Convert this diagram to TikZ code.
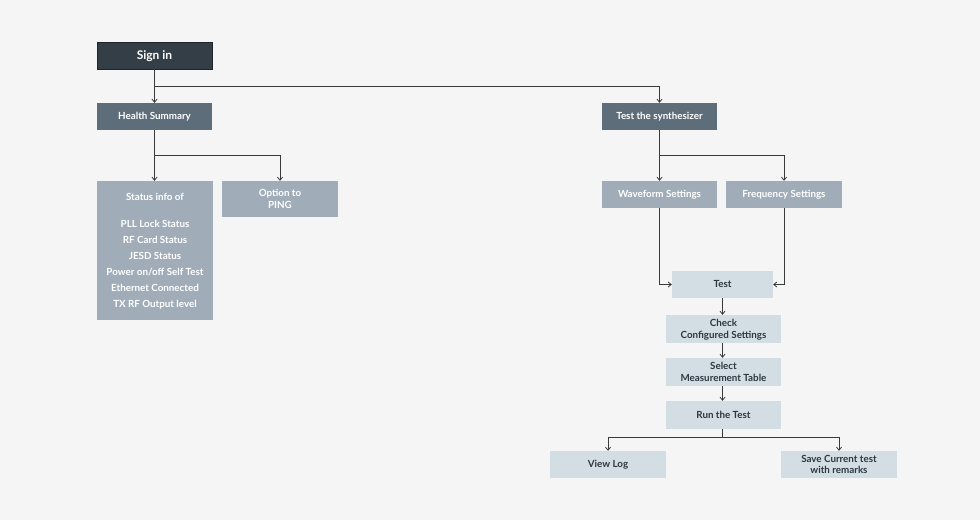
\documentclass[tikz,border=0pt]{standalone}
\usepackage{fontspec}
\setmainfont{Lato}
\usetikzlibrary{arrows.meta}
\definecolor{bg}{HTML}{F5F5F5}
\definecolor{cdark}{HTML}{343E46}
\definecolor{cmid}{HTML}{5E6D7A}
\definecolor{cgray}{HTML}{A0ADB9}
\definecolor{clight}{HTML}{D3DDE4}
\definecolor{ctext}{HTML}{2E3740}
\definecolor{cline}{HTML}{3A3A3A}
\tikzset{
  box/.style={rectangle, inner sep=0pt, align=center, text depth=0.5pt, font=\fontsize{9.8}{11.5}\selectfont\bfseries},
  darkbox/.style={box, fill=cdark, draw=cdark!60!black, line width=0.6pt, text=white},
  midbox/.style={box, fill=cmid, text=white},
  graybox/.style={box, fill=cgray, text=white},
  lightbox/.style={box, fill=clight, text=ctext},
  conn/.style={draw=cline, line width=0.8pt},
  arr/.style={conn, -{Straight Barb[length=3pt,width=5pt]}}
}
\begin{document}
\begin{tikzpicture}[x=1pt,y=-1pt]
\fill[bg] (0,0) rectangle (980,520);
\useasboundingbox (0,0) rectangle (980,520);

\node[darkbox, minimum width=115pt, minimum height=27pt, font=\fontsize{12}{13}\selectfont\bfseries] (signin) at (154.5,55.5) {Sign in};
\node[midbox, minimum width=115pt, minimum height=27pt] (health) at (154.5,116.5) {Health Summary};
\node[midbox, minimum width=115pt, minimum height=27pt] (synth) at (659.5,116.5) {Test the synthesizer};

\node[graybox, minimum width=116pt, minimum height=139pt, font=\fontsize{9.8}{16}\selectfont\bfseries] (status) at (155,250.5)
  {Status info of\\[11pt] PLL Lock Status\\ RF Card Status\\ JESD Status\\ Power on/off Self Test\\ Ethernet Connected\\ TX RF Output level};
\node[graybox, minimum width=116pt, minimum height=36pt] (ping) at (280,199) {Option to\\PING};

\node[graybox, minimum width=115pt, minimum height=27pt] (wave) at (659.5,194.5) {Waveform Settings};
\node[graybox, minimum width=116pt, minimum height=27pt] (freq) at (784,194.5) {Frequency Settings};

\node[lightbox, minimum width=101pt, minimum height=27pt] (test) at (722.5,284.5) {Test};
\node[lightbox, minimum width=115pt, minimum height=28pt] (check) at (723.5,329) {Check\\Configured Settings};
\node[lightbox, minimum width=115pt, minimum height=28pt] (select) at (723.5,372) {Select\\Measurement Table};
\node[lightbox, minimum width=115pt, minimum height=28pt] (run) at (723.5,415) {Run the Test};
\node[lightbox, minimum width=116pt, minimum height=27pt] (viewlog) at (608,464.5) {View Log};
\node[lightbox, minimum width=116pt, minimum height=27pt] (save) at (839,464.5) {Save Current test\\with remarks};

% connectors
\draw[arr] (signin.south) -- (health.north);
\draw[arr] (signin.south |- 0,86) -| (synth.north);

\draw[arr] (health.south) -- (health.south |- status.north);
\draw[arr] (health.south |- 0,155) -| (ping.north);

\draw[arr] (synth.south) -- (wave.north);
\draw[arr] (synth.south |- 0,155) -| (freq.north);

\draw[arr] (wave.south) |- (test.west);
\draw[arr] (freq.south) |- (test.east);

\draw[arr] (test.south) -- (test.south |- check.north);
\draw[arr] (test.south |- check.south) -- (test.south |- select.north);
\draw[arr] (test.south |- select.south) -- (test.south |- run.north);

\draw[conn] (test.south |- run.south) -- (test.south |- 0,437);
\draw[arr] (test.south |- 0,437) -| (viewlog.north);
\draw[arr] (test.south |- 0,437) -| (save.north);
\end{tikzpicture}
\end{document}
